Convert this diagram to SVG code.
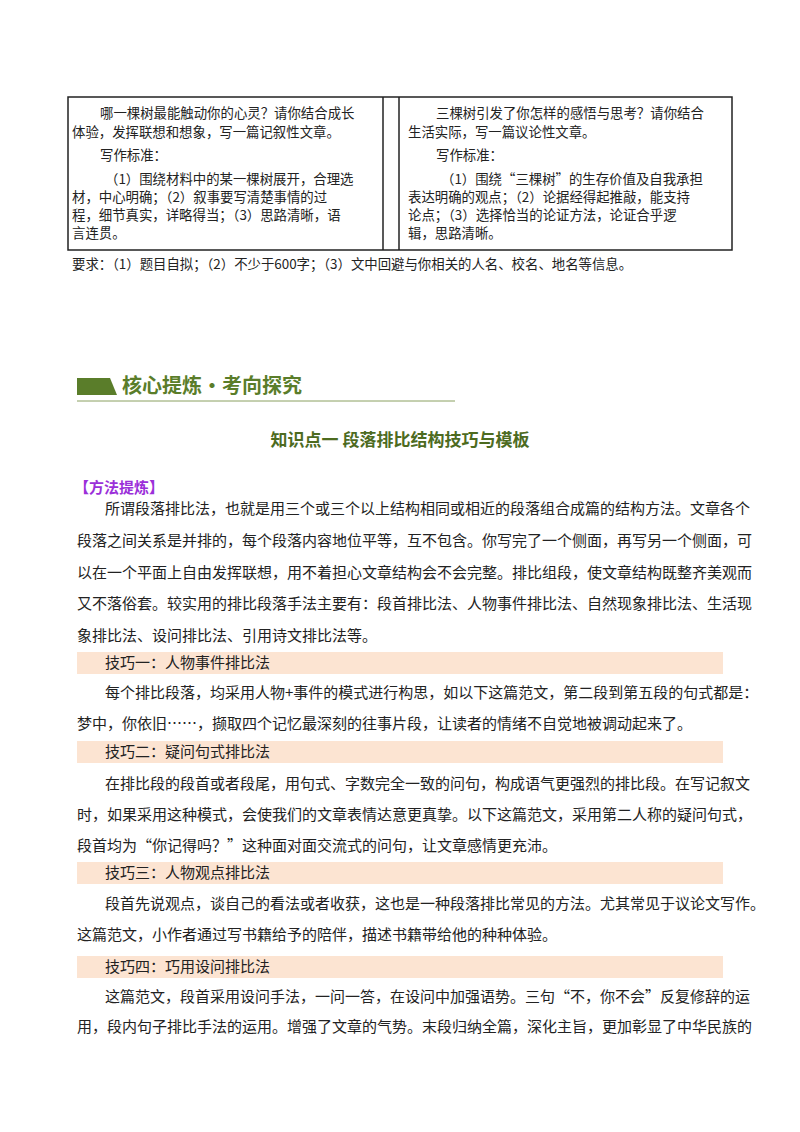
<svg xmlns="http://www.w3.org/2000/svg" width="800" height="1132" viewBox="0 0 800 1132">
<style>
text{font-family:"Noto Sans CJK SC",sans-serif;fill:#222}
.t{font-size:13.4px}
.b{font-size:15px}
.bar{fill:#fce4d2}
</style>
<rect width="800" height="1132" fill="#fff"/>
<g id="table" fill="none" stroke="#222" stroke-width="1.5">
<rect x="68" y="97" width="664" height="153"/>
<line x1="383" y1="97" x2="383" y2="250"/>
<line x1="399" y1="97" x2="399" y2="250"/>
</g>
<g id="table-text">
<text class="t" x="100" y="118">哪一棵树最能触动你的心灵？请你结合成长</text>
<text class="t" x="72" y="137">体验，发挥联想和想象，写一篇记叙性文章。</text>
<text class="t" x="100" y="160">写作标准：</text>
<text class="t" x="105" y="184">（1）围绕材料中的某一棵树展开，合理选</text>
<text class="t" x="72" y="202">材，中心明确；（2）叙事要写清楚事情的过</text>
<text class="t" x="72" y="220">程，细节真实，详略得当；（3）思路清晰，语</text>
<text class="t" x="72" y="238">言连贯。</text>
<text class="t" x="436" y="118">三棵树引发了你怎样的感悟与思考？请你结合</text>
<text class="t" x="408" y="137">生活实际，写一篇议论性文章。</text>
<text class="t" x="436" y="160">写作标准：</text>
<text class="t" x="441" y="184">（1）围绕“三棵树”的生存价值及自我承担</text>
<text class="t" x="408" y="202">表达明确的观点；（2）论据经得起推敲，能支持</text>
<text class="t" x="408" y="220">论点；（3）选择恰当的论证方法，论证合乎逻</text>
<text class="t" x="408" y="238">辑，思路清晰。</text>
<text class="t" x="72" y="269">要求：（1）题目自拟；（2）不少于600字；（3）文中回避与你相关的人名、校名、地名等信息。</text>
</g>
<g id="section-header">
<path d="M77 378 H110 L117 395 H77 Z" fill="#5a7d2a"/>
<text x="122" y="393" style="font-size:20px;font-weight:bold;fill:#5a7d2a">核心提炼·考向探究</text>
<line x1="77" y1="401" x2="455" y2="401" stroke="#8aa060" stroke-width="1"/>
</g>
<text x="400" y="446" text-anchor="middle" style="font-size:17px;font-weight:bold;fill:#4d6b1f">知识点一  段落排比结构技巧与模板</text>
<text x="74" y="493" style="font-size:15px;font-weight:bold;fill:#9b30d9">【方法提炼】</text>
<g id="body">
<text class="b" x="105" y="514">所谓段落排比法，也就是用三个或三个以上结构相同或相近的段落组合成篇的结构方法。文章各个</text>
<text class="b" x="77" y="546">段落之间关系是并排的，每个段落内容地位平等，互不包含。你写完了一个侧面，再写另一个侧面，可</text>
<text class="b" x="77" y="578">以在一个平面上自由发挥联想，用不着担心文章结构会不会完整。排比组段，使文章结构既整齐美观而</text>
<text class="b" x="77" y="609">又不落俗套。较实用的排比段落手法主要有：段首排比法、人物事件排比法、自然现象排比法、生活现</text>
<text class="b" x="77" y="641">象排比法、设问排比法、引用诗文排比法等。</text>
<rect class="bar" x="77" y="652" width="646" height="22"/>
<text class="b" x="105" y="668">技巧一：人物事件排比法</text>
<text class="b" x="105" y="698">每个排比段落，均采用人物+事件的模式进行构思，如以下这篇范文，第二段到第五段的句式都是：</text>
<text class="b" x="77" y="729">梦中，你依旧……，撷取四个记忆最深刻的往事片段，让读者的情绪不自觉地被调动起来了。</text>
<rect class="bar" x="77" y="741" width="646" height="22"/>
<text class="b" x="105" y="757">技巧二：疑问句式排比法</text>
<text class="b" x="105" y="789">在排比段的段首或者段尾，用句式、字数完全一致的问句，构成语气更强烈的排比段。在写记叙文</text>
<text class="b" x="77" y="820">时，如果采用这种模式，会使我们的文章表情达意更真挚。以下这篇范文，采用第二人称的疑问句式，</text>
<text class="b" x="77" y="851">段首均为“你记得吗？”这种面对面交流式的问句，让文章感情更充沛。</text>
<rect class="bar" x="77" y="862" width="646" height="22"/>
<text class="b" x="105" y="878">技巧三：人物观点排比法</text>
<text class="b" x="105" y="909">段首先说观点，谈自己的看法或者收获，这也是一种段落排比常见的方法。尤其常见于议论文写作。</text>
<text class="b" x="77" y="940">这篇范文，小作者通过写书籍给予的陪伴，描述书籍带给他的种种体验。</text>
<rect class="bar" x="77" y="956" width="646" height="22"/>
<text class="b" x="105" y="972">技巧四：巧用设问排比法</text>
<text class="b" x="105" y="1002">这篇范文，段首采用设问手法，一问一答，在设问中加强语势。三句“不，你不会”反复修辞的运</text>
<text class="b" x="77" y="1032">用，段内句子排比手法的运用。增强了文章的气势。末段归纳全篇，深化主旨，更加彰显了中华民族的</text>
</g>
</svg>
